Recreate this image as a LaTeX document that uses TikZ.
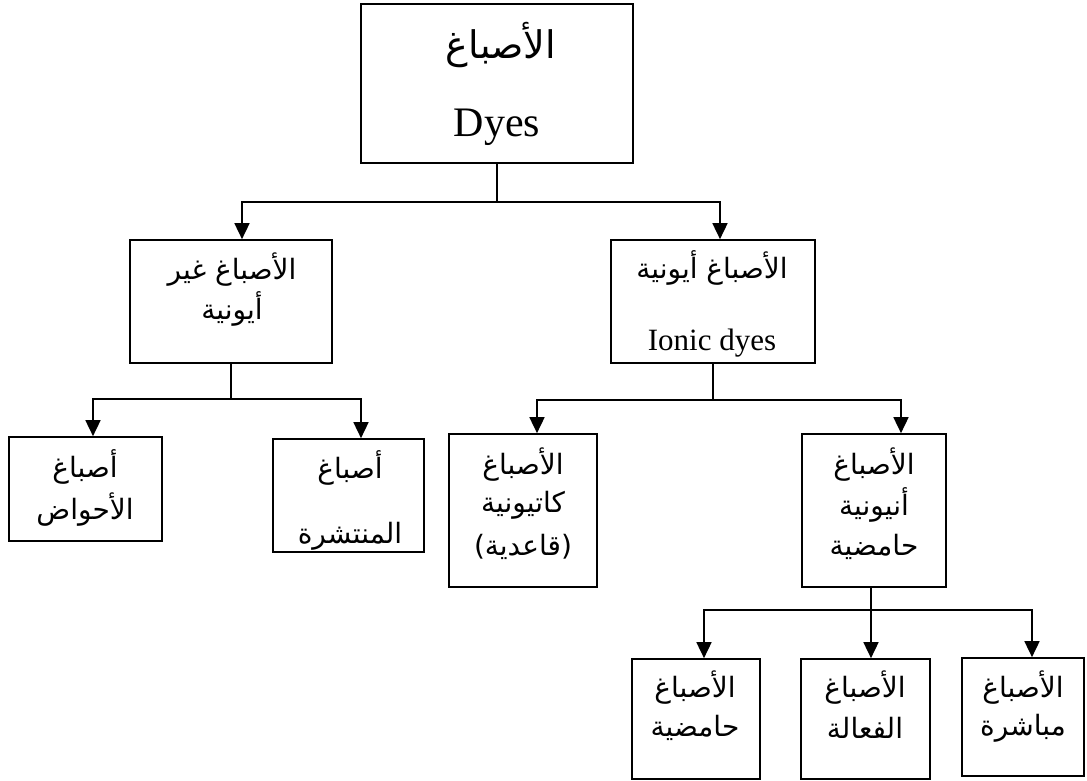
\documentclass[tikz,border=0pt]{standalone}
\usepackage{fontspec}
\setmainfont{Liberation Serif}
\newfontfamily\arabicfont[Script=Arabic]{DejaVu Sans}
\TeXXeTstate=1
\usetikzlibrary{arrows.meta}
\newcommand{\arb}[1]{{\arabicfont\beginR #1\endR}}
\begin{document}
\begin{tikzpicture}[x=1pt,y=-1pt,
  box/.style={draw, line width=1.7pt, inner sep=0pt},
  lbl/.style={inner sep=0pt, font=\fontsize{28}{32}\selectfont},
  big/.style={inner sep=0pt, font=\fontsize{38}{42}\selectfont},
  conn/.style={line width=1.7pt},
  arr/.style={line width=1.7pt, -{Triangle[width=15pt,length=16pt]}}]
\useasboundingbox (0,0) rectangle (1087,780);
% boxes
\node[box, minimum width=272pt, minimum height=159pt] (top) at (497,83.5) {};
\node[box, minimum width=202pt, minimum height=123pt] (nonion) at (231,301.5) {};
\node[box, minimum width=204pt, minimum height=123pt] (ionic) at (713,301.5) {};
\node[box, minimum width=153pt, minimum height=104pt] (vat) at (85.5,489) {};
\node[box, minimum width=151pt, minimum height=113pt] (disp) at (348.5,495.5) {};
\node[box, minimum width=148pt, minimum height=153pt] (cat) at (523,510.5) {};
\node[box, minimum width=144pt, minimum height=153pt] (anion) at (874,510.5) {};
\node[box, minimum width=128pt, minimum height=120pt] (acid) at (696,719) {};
\node[box, minimum width=129pt, minimum height=120pt] (react) at (865.5,719) {};
\node[box, minimum width=122pt, minimum height=118pt] (direct) at (1023,717) {};
% texts
\node[big] (t1a) at (501,45) {\arb{الأصباغ}};
\node[inner sep=0pt, font=\fontsize{42}{46}\selectfont] (t1b) at (497,127) {Dyes};
\node[lbl] (t2a) at (232,270) {\arb{الأصباغ غير}};
\node[lbl] (t2b) at (232,309) {\arb{أيونية}};
\node[lbl] (t3a) at (712,268) {\arb{الأصباغ أيونية}};
\node[inner sep=0pt, font=\fontsize{31}{35}\selectfont] (t3b) at (712,343) {Ionic dyes};
\node[lbl] (t4a) at (85,467) {\arb{أصباغ}};
\node[lbl] (t4b) at (85,510) {\arb{الأحواض}};
\node[lbl] (t5a) at (350,468) {\arb{أصباغ}};
\node[lbl] (t5b) at (350,536) {\arb{المنتشرة}};
\node[lbl] (t6a) at (523,465) {\arb{الأصباغ}};
\node[lbl] (t6b) at (523,505) {\arb{كاتيونية}};
\node[lbl] (t6c) at (523,547) {\arb{(قاعدية)}};
\node[lbl] (t7a) at (874,465) {\arb{الأصباغ}};
\node[lbl] (t7b) at (874,505) {\arb{أنيونية}};
\node[lbl] (t7c) at (874,547) {\arb{حامضية}};
\node[lbl] (t8a) at (695,688) {\arb{الأصباغ}};
\node[lbl] (t8b) at (695,728) {\arb{حامضية}};
\node[lbl] (t9a) at (865,688) {\arb{الأصباغ}};
\node[lbl] (t9b) at (865,728) {\arb{الفعالة}};
\node[lbl] (t10a) at (1023,688) {\arb{الأصباغ}};
\node[lbl] (t10b) at (1023,728) {\arb{مباشرة}};
% connectors
\draw[conn] (top.south) -- ++(0,38) coordinate (j1);
\draw[arr] (j1) -| ([xshift=11pt]nonion.north);
\draw[arr] (j1) -| ([xshift=7pt]ionic.north);
\draw[conn] (nonion.south) -- ++(0,35) coordinate (j2);
\draw[arr] (j2) -| ([xshift=7.5pt]vat.north);
\draw[arr] (j2) -| ([xshift=12.5pt]disp.north);
\draw[conn] (ionic.south) -- ++(0,36) coordinate (j3);
\draw[arr] (j3) -| ([xshift=14pt]cat.north);
\draw[arr] (j3) -| ([xshift=27pt]anion.north);
\draw[conn] ([xshift=-3pt]anion.south) -- ++(0,22) coordinate (j4);
\draw[arr] (j4) -| ([xshift=8pt]acid.north);
\draw[arr] (j4) -| ([xshift=9pt]direct.north);
\draw[arr] (j4) -- (j4 |- react.north);
\end{tikzpicture}
\end{document}
